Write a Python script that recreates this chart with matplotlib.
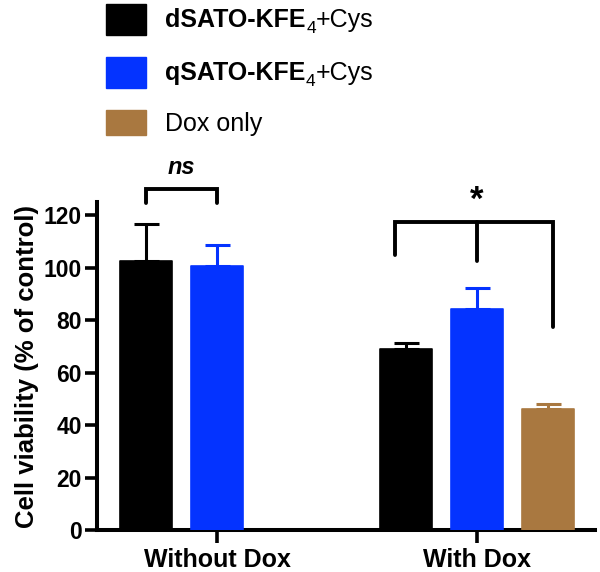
import numpy as np
import matplotlib
matplotlib.use('Agg')
import matplotlib.pyplot as plt
from matplotlib.patches import Rectangle

plt.rcParams['font.family'] = ['Liberation Sans', 'DejaVu Sans']

# ── Данные ──────────────────────────────────────────────
groups = ['Without Dox', 'With Dox']
dsato = [102.5, 68.8]
dsato_err = [14.3, 2.5]
qsato = [100.6, 84.1]
qsato_err = [8.0, 8.2]
dox_only = [np.nan, 46.0]
dox_only_err = [np.nan, 2.0]

series_names = ['dSATO-KFE', 'qSATO-KFE', 'Dox only']
colors = ['#000000', '#0433FF', '#A97840']

W, H = 600, 572
fig = plt.figure(figsize=(W / 100, H / 100), dpi=100)
ax = fig.add_axes([97 / W, 1 - 530 / H, (595 - 97) / W, (530 - 202) / H])

x = np.arange(len(groups))
offset = 0.273
width = 0.2

for vals, errs, dx, col in [(dsato, dsato_err, -offset, colors[0]),
                            (qsato, qsato_err, 0.0, colors[1]),
                            (dox_only, dox_only_err, offset, colors[2])]:
    vals = np.array(vals, dtype=float)
    errs = np.array(errs, dtype=float)
    ok = ~np.isnan(vals)
    xs = x[ok] + dx
    ax.errorbar(xs, vals[ok], yerr=[np.zeros(ok.sum()), errs[ok]], fmt='none',
                ecolor=col, elinewidth=2.2, capsize=9, capthick=2.2, zorder=2)
    ax.bar(xs, vals[ok], width=width, color=col, edgecolor=col, linewidth=1.2,
           joinstyle='round', zorder=3)

ax.set_xlim(-0.4615, 1.4538)
ax.set_ylim(0, 125)
ax.set_yticks(np.arange(0, 121, 20))
ax.set_xticks(x)
ax.set_xticklabels(groups, fontsize=18, fontweight='bold')
for lab in ax.get_yticklabels():
    lab.set_fontsize(16.5)
    lab.set_fontweight('bold')
ax.tick_params(axis='both', length=9, width=2.6, color='black', pad=2)
ax.tick_params(axis='x', pad=4)
ax.spines['top'].set_visible(False)
ax.spines['right'].set_visible(False)
for s in ('left', 'bottom'):
    ax.spines[s].set_linewidth(2.9)
ax.set_ylabel('Cell viability (% of control)', fontsize=18.5, fontweight='bold', labelpad=3)

# ── Скобки значимости ───────────────────────────────────
lw = 2.8
ax.plot([-offset, -offset, 0, 0], [124.5, 130, 130, 124.5], color='black', lw=lw,
        clip_on=False, solid_capstyle='round', solid_joinstyle='miter')
ax.text(-offset / 2, 138.3, 'ns', fontsize=17, fontweight='bold', fontstyle='italic',
        ha='center', va='center')

ax.plot([0.685, 0.685, 1.292, 1.292], [104.8, 117.2, 117.2, 77.2], color='black', lw=lw,
        clip_on=False, solid_capstyle='round', solid_joinstyle='miter')
ax.plot([1.0, 1.0], [117.2, 102.5], color='black', lw=lw, solid_capstyle='round', clip_on=False)
ax.text(1.0, 125.5, '*', fontsize=25, fontweight='bold', ha='center', va='center')

# ── Легенда ─────────────────────────────────────────────
rows = [(4, 35, 27), (57, 88, 80), (110, 135, 131)]
for (top, bot, base), col, name in zip(rows, colors, series_names):
    fig.add_artist(Rectangle((106 / W, 1 - bot / H), 40 / W, (bot - top) / H,
                             transform=fig.transFigure, color=col))
    yb = 1 - base / H
    if name == 'Dox only':
        fig.text(165 / W, yb, name, fontsize=18, va='baseline')
        continue
    t1 = fig.text(165 / W, yb, name, fontsize=18, fontweight='bold', va='baseline')
    sub = ax.annotate('4', xy=(1, yb), xycoords=(t1, 'figure fraction'),
                      xytext=(0.5, -4.5), textcoords='offset points',
                      fontsize=12.5, va='baseline')
    ax.annotate('+Cys', xy=(1, yb), xycoords=(sub, 'figure fraction'),
                xytext=(0.3, 0), textcoords='offset points', fontsize=18, va='baseline')

fig.savefig('out.png', dpi=100)
